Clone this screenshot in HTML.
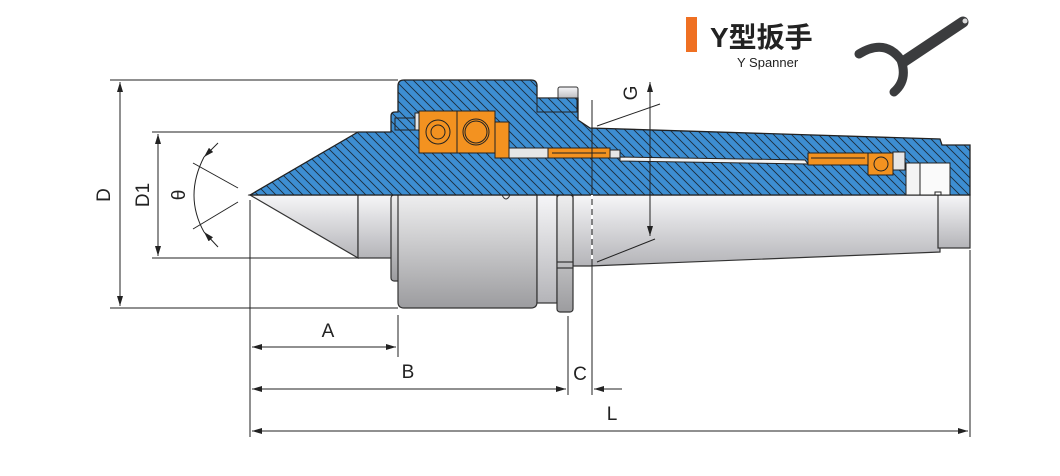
<!DOCTYPE html>
<html><head><meta charset="utf-8"><style>
html,body{margin:0;padding:0;background:#fff;}
svg{display:block;}
text{font-family:"Liberation Sans","Noto Sans CJK SC",sans-serif;}
</style></head><body>
<svg width="1060" height="476" viewBox="0 0 1060 476" xmlns="http://www.w3.org/2000/svg">
<defs>
<pattern id="h" width="9" height="9" patternUnits="userSpaceOnUse">
<rect width="9" height="9" fill="#3d8ed2"/>
<path d="M0,0 L9,9 M-2,7 L2,11 M7,-2 L11,2" stroke="#1c2b3a" stroke-width="0.9"/>
</pattern>
<linearGradient id="g" x1="0" y1="0" x2="0" y2="1">
<stop offset="0" stop-color="#f6f6f8"/><stop offset="1" stop-color="#b4b4b8"/></linearGradient>
<linearGradient id="g2" x1="0" y1="0" x2="0" y2="1">
<stop offset="0" stop-color="#eeeeef"/><stop offset="1" stop-color="#9c9c9f"/></linearGradient>
<marker id="a" viewBox="0 0 10 6" refX="10" refY="3" markerWidth="10" markerHeight="6" orient="auto-start-reverse" markerUnits="userSpaceOnUse">
<path d="M0,0 L10,3 L0,6 Z" fill="#222"/></marker>
</defs>

<g stroke="#333" stroke-width="1.2">
<path d="M573,195 L940,195 L940,252 L590,266 L573,266 Z" fill="url(#g)"/>
<rect x="938" y="195" width="32" height="53" fill="url(#g)"/>
<polygon points="250,195 358,258 358,195" fill="url(#g)"/>
<rect x="358" y="195" width="36" height="63" fill="url(#g)"/>
<rect x="391" y="195" width="10" height="86" rx="3" fill="url(#g2)"/>
<path d="M398,195 L537,195 L537,302 Q537,308 531,308 L404,308 Q398,308 398,302 Z" fill="url(#g2)"/>
<rect x="537" y="195" width="20" height="108" fill="url(#g)"/>
<rect x="557" y="195" width="16" height="117" rx="3" fill="url(#g2)"/>
<line x1="557" y1="262" x2="573" y2="262"/><line x1="557" y1="268" x2="573" y2="268"/>
</g>
<path d="M502,195 q4,8 8,0" fill="none" stroke="#333"/>

<path d="M250,195 L358,132 L391,132 L391,116 Q391,112 395,112 L398,112 L398,86 Q398,80 404,80 L531,80 Q537,80 537,86 L537,98 L578,98 L578,112 L578,120 L590,128 L940,139 L942,145 L970,145 L970,195 Z" fill="url(#h)" stroke="#222" stroke-width="1.3"/>
<rect x="558" y="87" width="20" height="13" rx="2" fill="url(#g)" stroke="#333"/>
<rect x="537" y="98" width="40" height="14" fill="url(#h)" stroke="#222"/>

<g stroke="#222" stroke-width="1">
<rect x="395" y="118" width="20" height="12" fill="url(#h)"/>
<rect x="415" y="113" width="4" height="17" fill="#e6e6e6"/>
<rect x="419" y="111" width="38" height="42" fill="#f39220"/>
<rect x="457" y="111" width="38" height="42" fill="#f39220"/>
<circle cx="438" cy="132" r="12" fill="none"/><circle cx="438" cy="132" r="7" fill="none"/>
<circle cx="476" cy="132" r="13" fill="none"/><circle cx="476" cy="132" r="11" fill="none"/>
<rect x="495" y="122" width="14" height="36" fill="#f39220"/>
<rect x="509" y="148" width="40" height="10" fill="#e6e6e6"/>
<rect x="548" y="148" width="62" height="10" fill="#f39220"/>
<line x1="552" y1="153" x2="606" y2="153"/>
<rect x="610" y="150" width="10" height="8" fill="#e6e6e6"/>
<path d="M620,157 L805,160 L808,164 L620,161 Z" fill="#f4f4f4"/>
<rect x="808" y="153" width="60" height="12" fill="#f39220"/>
<line x1="811" y1="158" x2="865" y2="158"/>
<rect x="868" y="153" width="25" height="22" fill="#f39220"/>
<circle cx="881" cy="164" r="7" fill="none"/>
<rect x="893" y="152" width="12" height="18" fill="#e6e6e6"/>
<rect x="906" y="163" width="14" height="32" fill="#f4f4f4"/>
<rect x="920" y="163" width="30" height="32" fill="#fafafa"/>
<rect x="935" y="192" width="6" height="3" fill="#fff"/>
</g>

<g stroke="#222" stroke-width="1" fill="none">
<line x1="110" y1="80" x2="398" y2="80"/>
<line x1="110" y1="308" x2="398" y2="308"/>
<line x1="120" y1="82" x2="120" y2="306" marker-start="url(#a)" marker-end="url(#a)"/>
<line x1="152" y1="132" x2="358" y2="132"/>
<line x1="152" y1="258" x2="358" y2="258"/>
<line x1="158" y1="134" x2="158" y2="256" marker-start="url(#a)" marker-end="url(#a)"/>
<line x1="193" y1="163" x2="238" y2="188"/>
<line x1="193" y1="229" x2="238" y2="202"/>
<path d="M204,157 Q184,196 204,232"/>
<line x1="218" y1="143" x2="204" y2="157" marker-end="url(#a)"/>
<line x1="218" y1="247" x2="204" y2="232" marker-end="url(#a)"/>
<line x1="250" y1="200" x2="250" y2="437"/>
<line x1="398" y1="315" x2="398" y2="357"/>
<line x1="252" y1="347" x2="396" y2="347" marker-start="url(#a)" marker-end="url(#a)"/>
<line x1="568" y1="316" x2="568" y2="395"/>
<line x1="252" y1="389" x2="566" y2="389" marker-start="url(#a)" marker-end="url(#a)"/>
<line x1="592" y1="100" x2="592" y2="395"/>
<line x1="622" y1="389" x2="594" y2="389" marker-end="url(#a)"/>
<line x1="970" y1="250" x2="970" y2="437"/>
<line x1="252" y1="431" x2="968" y2="431" marker-start="url(#a)" marker-end="url(#a)"/>
<line x1="650" y1="82" x2="650" y2="236" marker-start="url(#a)" marker-end="url(#a)"/>
<line x1="597" y1="126" x2="660" y2="104"/>
<line x1="597" y1="262" x2="655" y2="239"/>
</g>
<line x1="592" y1="195" x2="592" y2="262" stroke="#fff" stroke-width="2" stroke-dasharray="4,6"/>

<g font-size="19" fill="#222">
<text x="103" y="195" text-anchor="middle" transform="rotate(-90 103 195)" dy="7">D</text>
<text x="142" y="195" text-anchor="middle" transform="rotate(-90 142 195)" dy="7">D1</text>
<text x="178" y="195" text-anchor="middle" transform="rotate(-90 178 195)" dy="7">θ</text>
<text x="328" y="337" text-anchor="middle">A</text>
<text x="408" y="378" text-anchor="middle">B</text>
<text x="580" y="380" text-anchor="middle">C</text>
<text x="612" y="420" text-anchor="middle">L</text>
<text x="630" y="93" text-anchor="middle" transform="rotate(-90 630 93)" dy="7">G</text>
</g>

<rect x="686" y="17" width="11" height="35" fill="#ef7022"/>
<text x="710" y="47" font-size="28" font-weight="bold" fill="#222">Y型扳手</text>
<text x="737" y="67" font-size="13" fill="#222">Y Spanner</text>
<g stroke="#3b3c3e" fill="none" stroke-linecap="round">
<line x1="903" y1="62" x2="963" y2="22" stroke-width="11"/>
<path d="M859,54 Q885,38 901,60 Q908,80 894,92" stroke-width="9"/>
</g>
<circle cx="965" cy="21" r="2.5" fill="#ddd"/>
</svg>
</body></html>
